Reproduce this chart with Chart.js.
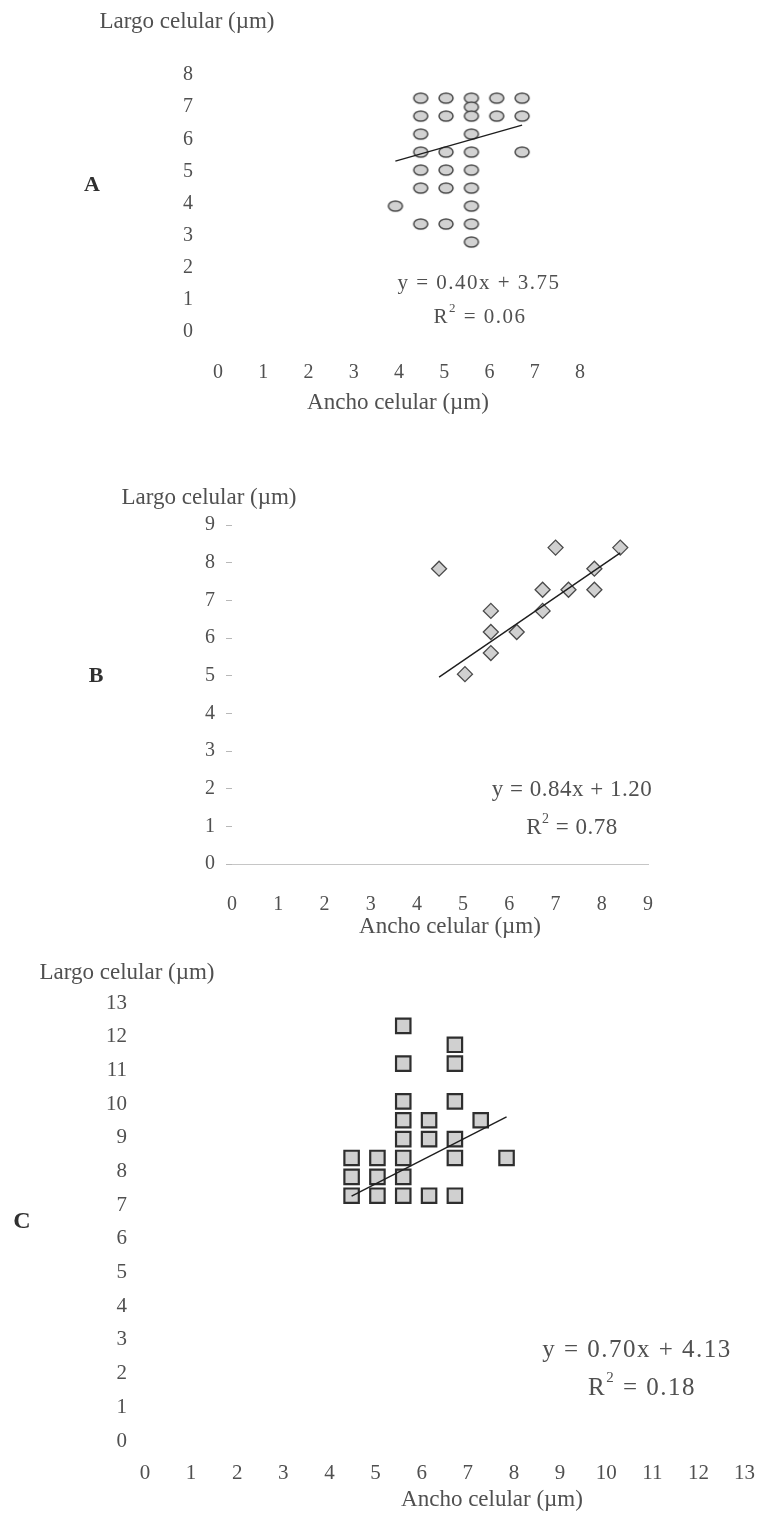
<!DOCTYPE html>
<html lang="es">
<head>
<meta charset="utf-8">
<title>Largo vs ancho celular</title>
<script src="https://cdn.jsdelivr.net/npm/chart.js@4.4.1/dist/chart.umd.min.js"></script>
<style>
  html, body { margin: 0; padding: 0; background: #fff; }
  #page { position: relative; width: 775px; height: 1517px; overflow: hidden; background: #fff; }
  #page canvas { position: absolute; left: 0; }
</style>
</head>
<body>
<div id="page">
  <canvas id="chartA" width="775" height="430" style="top:0;width:775px;height:430px"></canvas>
  <canvas id="chartB" width="775" height="505" style="top:440px;width:775px;height:505px"></canvas>
  <canvas id="chartC" width="775" height="572" style="top:945px;width:775px;height:572px"></canvas>
</div>
<script>
// --- Panel A (circles) ---
const anchoA = [4.48, 5.04, 5.6, 6.16, 6.72, 5.6, 4.48, 5.04, 5.6, 6.16, 6.72, 4.48, 5.6,
                4.48, 5.04, 5.6, 6.72, 4.48, 5.04, 5.6, 4.48, 5.04, 5.6, 3.92, 5.6,
                4.48, 5.04, 5.6, 5.6];
const largoA = [7.28, 7.28, 7.28, 7.28, 7.28, 7.0, 6.72, 6.72, 6.72, 6.72, 6.72, 6.16, 6.16,
                5.6, 5.6, 5.6, 5.6, 5.04, 5.04, 5.04, 4.48, 4.48, 4.48, 3.92, 3.92,
                3.36, 3.36, 3.36, 2.8];
const trendAnchoA = [3.92, 6.72];
const trendLargoA = [5.32, 6.44];

// --- Panel B (diamonds) ---
const anchoB = [4.48, 7.0, 8.4, 7.84, 6.72, 7.28, 7.84, 5.6, 6.72, 5.6, 6.16, 5.6, 5.04];
const largoB = [7.84, 8.4, 8.4, 7.84, 7.28, 7.28, 7.28, 6.72, 6.72, 6.16, 6.16, 5.6, 5.04];
const trendAnchoB = [4.48, 8.4];
const trendLargoB = [4.96, 8.26];

// --- Panel C (squares) ---
const anchoC = [5.6, 6.72, 5.6, 6.72, 5.6, 6.72, 5.6, 6.16, 7.28, 5.6, 6.16, 6.72,
                4.48, 5.04, 5.6, 6.72, 7.84, 4.48, 5.04, 5.6, 4.48, 5.04, 5.6, 6.16, 6.72];
const largoC = [12.32, 11.76, 11.2, 11.2, 10.08, 10.08, 9.52, 9.52, 9.52, 8.96, 8.96, 8.96,
                8.4, 8.4, 8.4, 8.4, 8.4, 7.84, 7.84, 7.84, 7.28, 7.28, 7.28, 7.28, 7.28];
const trendAnchoC = [4.48, 7.84];
const trendLargoC = [7.27, 9.62];

// tick labels
const ticksA = ['0', '1', '2', '3', '4', '5', '6', '7', '8'];
const ticksB = ['0', '1', '2', '3', '4', '5', '6', '7', '8', '9'];
const ticksC = ['0', '1', '2', '3', '4', '5', '6', '7', '8', '9', '10', '11', '12', '13'];

const tituloY = 'Largo celular (µm)';
const tituloX = 'Ancho celular (µm)';

const SERIF = '"Liberation Serif", "Times New Roman", serif';
const TEXT_COLOR = '#505050';
const W = 775;

function toPoints(xs, ys) {
    return xs.map((x, i) => ({ x: x, y: ys[i] }));
}

// oval marker used in panel A
function ovalMarker() {
    const c = document.createElement('canvas');
    c.width = 18; c.height = 14;
    const g = c.getContext('2d');
    g.beginPath();
    g.ellipse(9, 7, 7, 5, 0, 0, Math.PI * 2);
    g.fillStyle = '#d2d2d2';
    g.fill();
    g.lineWidth = 1.5;
    g.strokeStyle = '#4a4a4a';
    g.stroke();
    return c;
}

// free text: axis titles, panel letter, equation
const panelText = {
    id: 'panelText',
    afterDraw(chart, args, opts) {
        const ctx = chart.ctx;
        const top = opts.top || 0;
        ctx.save();
        ctx.textBaseline = 'middle';
        opts.items.forEach(it => {
            const size = it.size;
            ctx.fillStyle = it.color || TEXT_COLOR;
            if ('letterSpacing' in ctx) ctx.letterSpacing = (it.spacing || 0) + 'px';
            if (it.sup) {
                // R² = value
                const parts = [
                    { t: it.text, s: size, dy: 0 },
                    { t: it.sup, s: Math.round(size * 0.6), dy: -size * 0.38 },
                    { t: it.after, s: size, dy: 0 }
                ];
                let total = 0;
                parts.forEach(p => {
                    ctx.font = p.s + 'px ' + SERIF;
                    p.w = ctx.measureText(p.t).width;
                    total += p.w;
                });
                let x = it.x - total / 2;
                ctx.textAlign = 'left';
                parts.forEach(p => {
                    ctx.font = p.s + 'px ' + SERIF;
                    ctx.fillText(p.t, x, it.y - top + p.dy);
                    x += p.w;
                });
            } else {
                ctx.font = (it.bold ? 'bold ' : '') + size + 'px ' + SERIF;
                ctx.textAlign = 'center';
                ctx.fillText(it.text, it.x, it.y - top);
            }
        });
        ctx.restore();
    }
};

function buildPanel(p) {
    const xAxisH = p.height - p.area.bottom - p.bottomPad;
    const tickFont = { family: SERIF, size: p.tickSize };

    return new Chart(document.getElementById(p.id), {
        type: 'scatter',
        data: {
            datasets: [
                {
                    label: 'Tendencia',
                    data: toPoints(p.trendX, p.trendY),
                    showLine: true,
                    borderColor: '#1e1e1e',
                    borderWidth: 1.4,
                    pointRadius: 0,
                    order: 0
                },
                {
                    label: 'Células',
                    data: toPoints(p.xs, p.ys),
                    pointStyle: p.marker,
                    pointRadius: p.markerRadius,
                    pointBackgroundColor: '#d0d0d0',
                    pointBorderColor: p.markerBorder,
                    pointBorderWidth: p.markerBorderWidth,
                    order: 1
                }
            ]
        },
        options: {
            responsive: false,
            animation: false,
            events: [],
            layout: {
                padding: { left: 0, top: p.area.top, right: W - p.area.right, bottom: p.bottomPad }
            },
            scales: {
                x: {
                    type: 'linear',
                    min: 0,
                    max: p.ticks.length - 1,
                    afterFit: s => { s.height = xAxisH; },
                    afterBuildTicks: s => { s.ticks = p.ticks.map((t, i) => ({ value: i })); },
                    ticks: {
                        callback: (v, i) => p.ticks[i],
                        padding: p.xTickPad,
                        maxRotation: 0,
                        autoSkip: false,
                        font: tickFont,
                        color: TEXT_COLOR
                    },
                    grid: { display: false, drawTicks: false },
                    border: { display: !!p.baseLine, color: '#c6c6c6', width: 1 }
                },
                y: {
                    type: 'linear',
                    min: 0,
                    max: p.ticks.length - 1,
                    afterFit: s => { s.width = p.area.left; },
                    afterBuildTicks: s => { s.ticks = p.ticks.map((t, i) => ({ value: i })); },
                    ticks: {
                        callback: (v, i) => p.ticks[i],
                        padding: p.yTickPad,
                        autoSkip: false,
                        font: tickFont,
                        color: TEXT_COLOR
                    },
                    grid: {
                        display: !!p.tickMarks,
                        drawOnChartArea: false,
                        drawTicks: !!p.tickMarks,
                        tickLength: 6,
                        color: '#b8b8b8'
                    },
                    border: { display: false }
                }
            },
            plugins: {
                legend: { display: false },
                tooltip: { enabled: false },
                panelText: { top: p.top, items: p.texts }
            }
        },
        plugins: [panelText]
    });
}

buildPanel({
    id: 'chartA', top: 0, height: 430, bottomPad: 10,
    area: { left: 218, right: 580, top: 75, bottom: 332 },
    ticks: ticksA, tickSize: 20, xTickPad: 29, yTickPad: 25,
    xs: anchoA, ys: largoA, trendX: trendAnchoA, trendY: trendLargoA,
    marker: ovalMarker(), markerRadius: 7, markerBorder: '#4a4a4a', markerBorderWidth: 1.5,
    texts: [
        { text: tituloY, x: 187, y: 22, size: 23 },
        { text: 'A', x: 92, y: 185, size: 22, bold: true, color: '#303030' },
        { text: tituloX, x: 398, y: 403, size: 23 },
        { text: 'y = 0.40x + 3.75', x: 479, y: 283, size: 21, spacing: 1.5 },
        { text: 'R', sup: '2', after: ' = 0.06', x: 480, y: 317, size: 21, spacing: 1.5 }
    ]
});

buildPanel({
    id: 'chartB', top: 440, height: 505, bottomPad: 6,
    area: { left: 232, right: 648, top: 85, bottom: 424 },
    ticks: ticksB, tickSize: 20, xTickPad: 29, yTickPad: 11, baseLine: true, tickMarks: true,
    xs: anchoB, ys: largoB, trendX: trendAnchoB, trendY: trendLargoB,
    marker: 'rectRot', markerRadius: 7.5, markerBorder: '#4a4a4a', markerBorderWidth: 1.3,
    texts: [
        { text: tituloY, x: 209, y: 498, size: 23 },
        { text: 'B', x: 96, y: 676, size: 22, bold: true, color: '#303030' },
        { text: tituloX, x: 450, y: 927, size: 23 },
        { text: 'y = 0.84x + 1.20', x: 572, y: 790, size: 23, spacing: 0.5 },
        { text: 'R', sup: '2', after: ' = 0.78', x: 572, y: 828, size: 23, spacing: 0.5 }
    ]
});

buildPanel({
    id: 'chartC', top: 945, height: 572, bottomPad: 6,
    area: { left: 145, right: 762, top: 58, bottom: 496 },
    ticks: ticksC, tickSize: 21, xTickPad: 20, yTickPad: 18,
    xs: anchoC, ys: largoC, trendX: trendAnchoC, trendY: trendLargoC,
    marker: 'rect', markerRadius: 10.2, markerBorder: '#2e2e2e', markerBorderWidth: 2.2,
    texts: [
        { text: tituloY, x: 127, y: 973, size: 23 },
        { text: 'C', x: 22, y: 1222, size: 24, bold: true, color: '#303030' },
        { text: tituloX, x: 492, y: 1500, size: 23 },
        { text: 'y = 0.70x + 4.13', x: 637, y: 1350, size: 25, spacing: 1.5 },
        { text: 'R', sup: '2', after: ' = 0.18', x: 642, y: 1388, size: 25, spacing: 1.5 }
    ]
});
</script>
</body>
</html>
